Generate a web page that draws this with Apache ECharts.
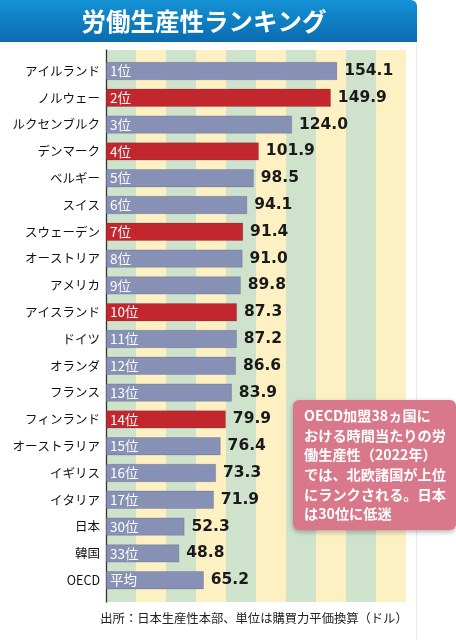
<!DOCTYPE html>
<html><head><meta charset="utf-8">
<script src="https://cdn.jsdelivr.net/npm/echarts@6/dist/echarts.min.js"></script>
<style>html,body{margin:0;padding:0;background:#fff}#c{width:456px;height:640px}</style>
</head><body><div id="c"></div>
<script>
const categories = ['アイルランド','ノルウェー','ルクセンブルク','デンマーク','ベルギー','スイス','スウェーデン','オーストリア','アメリカ','アイスランド','ドイツ','オランダ','フランス','フィンランド','オーストラリア','イギリス','イタリア','日本','韓国','OECD'];
const values = [154.1,149.9,124.0,101.9,98.5,94.1,91.4,91.0,89.8,87.3,87.2,86.6,83.9,79.9,76.4,73.3,71.9,52.3,48.8,65.2];
const ranks = ['1位','2位','3位','4位','5位','6位','7位','8位','9位','10位','11位','12位','13位','14位','15位','16位','17位','30位','33位','平均'];
const nordic = ['ノルウェー','デンマーク','スウェーデン','アイスランド','フィンランド'];
const xTicks = {min:0, max:200, interval:20};
const titleText = '労働生産性ランキング';
const noteLines = ['OECD加盟38ヵ国に','おける時間当たりの労','働生産性（2022年）','では、北欧諸国が上位','にランクされる。日本','は30位に低迷'];
const sourceText = '出所：日本生産性本部、単位は購買力平価換算（ドル）';

const JP = '"Noto Sans CJK JP","Noto Sans",sans-serif';
const chart = echarts.init(document.getElementById('c'), null, {renderer:'canvas'});
const barData = values.map((v,i)=>({
  value:v,
  itemStyle:{color: nordic.includes(categories[i]) ? '#c1272d' : '#8691b5'}
}));
const option = {
  animation:false,
  backgroundColor:'#fff',
  grid:[
    {left:106, width:300, top:57.6, height:536},
    {left:106, width:300, top:50, height:552}
  ],
  xAxis:[
    {gridIndex:0, type:'value', min:xTicks.min, max:xTicks.max, interval:xTicks.interval, show:false},
    {gridIndex:1, type:'value', min:xTicks.min, max:xTicks.max, interval:xTicks.interval,
     axisLine:{show:false}, axisTick:{show:false}, axisLabel:{show:false}, splitLine:{show:false},
     splitArea:{show:true, areaStyle:{color:['#cfe3cc','#fdf1c4']}}}
  ],
  yAxis:[
    {gridIndex:0, type:'category', data:categories, inverse:true,
     axisLine:{show:false}, axisTick:{show:false}, splitLine:{show:false},
     axisLabel:{fontSize:12.5, color:'#111', margin:6, fontFamily:JP}},
    {gridIndex:1, type:'value', min:0, max:1,
     axisLine:{show:true, lineStyle:{color:'#333', width:1.3}}, axisTick:{show:false},
     axisLabel:{show:false}, splitLine:{show:false}}
  ],
  series:[
    {type:'bar', xAxisIndex:0, yAxisIndex:0, data:barData, barWidth:18,
     itemStyle:{borderColor:'rgba(60,60,90,0.35)', borderWidth:0.6},
     label:{show:true, position:'right', distance:7, color:'#1a1a1a',
       fontSize:15.5, fontWeight:'bold', fontFamily:'"DejaVu Sans",sans-serif',
       formatter:p=>values[p.dataIndex].toFixed(1)}},
    {type:'bar', xAxisIndex:0, yAxisIndex:0, data:values, barWidth:18, barGap:'-100%',
     itemStyle:{color:'rgba(0,0,0,0)'}, silent:true,
     label:{show:true, position:'insideLeft', distance:4, color:'#fff',
       fontSize:13.5, fontFamily:JP, formatter:p=>ranks[p.dataIndex]}}
  ],
  graphic:[
    {type:'line', shape:{x1:416.5,y1:42,x2:416.5,y2:640}, style:{stroke:'#e6edf4', lineWidth:1}, z:0},
    {type:'rect', shape:{x:0,y:0,width:417,height:42,r:[0,6,0,0]},
     style:{fill:new echarts.graphic.LinearGradient(0,0,0,1,[{offset:0,color:'#1592d6'},{offset:1,color:'#0a6bb0'}])}, z:10},
    {type:'text', x:204, y:22, z:11,
     style:{text:titleText, fill:'#fff', font:'bold 24.5px '+JP, textAlign:'center', textVerticalAlign:'middle'}},
    {type:'rect', shape:{x:293,y:400,width:163,height:130,r:6}, z:20,
     style:{fill:'#d9788a', shadowBlur:5, shadowOffsetY:2, shadowColor:'rgba(0,0,0,0.3)'}},
    {type:'text', x:304, y:406, z:21,
     style:{text:noteLines.join('\n'), fill:'#fff', font:'bold 14.2px '+JP, lineHeight:19.6, textAlign:'left', textVerticalAlign:'top'}},
    {type:'text', x:254, y:618, z:11,
     style:{text:sourceText, fill:'#222', font:'12.3px '+JP, textAlign:'center', textVerticalAlign:'middle'}}
  ]
};
chart.setOption(option);
</script></body></html>
